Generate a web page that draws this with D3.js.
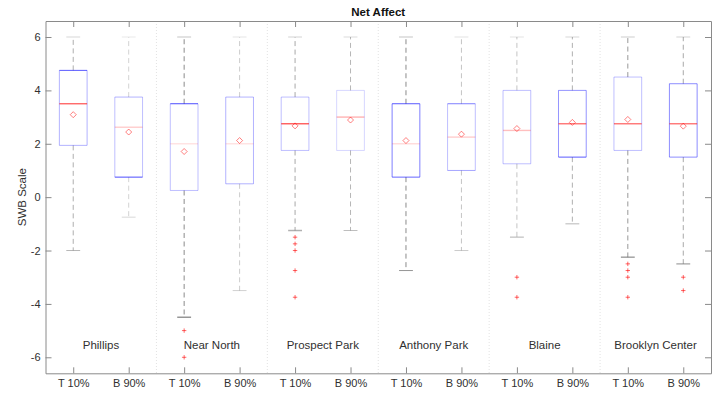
<!DOCTYPE html>
<html>
<head>
<meta charset="utf-8">
<script src="https://cdn.jsdelivr.net/npm/d3@7"></script>
<style>
  html, body { margin: 0; padding: 0; background: #fff; }
  svg { display: block; font-family: "Liberation Sans", Arial, Helvetica, sans-serif; }
</style>
</head>
<body>
<svg id="chart" width="718" height="400"></svg>
<script>
// Neighbourhoods, two boxes each (top 10% / bottom 90%)
const groups = ["Phillips", "Near North", "Prospect Park", "Anthony Park", "Blaine", "Brooklyn Center"];
const tickLabels = ["T 10%", "B 90%", "T 10%", "B 90%", "T 10%", "B 90%",
                    "T 10%", "B 90%", "T 10%", "B 90%", "T 10%", "B 90%"];
const yTicks = [-6, -4, -2, 0, 2, 4, 6];

// Box statistics per column
const q1       = [1.94, 0.75, 0.25, 0.5, 1.75, 1.75, 0.75, 1.0, 1.25, 1.5, 1.75, 1.5];
const medians  = [3.5, 2.62, 2.0, 2.0, 2.75, 3.0, 2.0, 2.25, 2.5, 2.75, 2.75, 2.75];
const q3       = [4.75, 3.75, 3.5, 3.75, 3.75, 4.0, 3.5, 3.5, 4.0, 4.0, 4.5, 4.25];
const means    = [3.09, 2.44, 1.71, 2.12, 2.67, 2.89, 2.12, 2.36, 2.57, 2.8, 2.91, 2.66];
const whiskLo  = [-2.0, -0.75, -4.5, -3.5, -1.25, -1.25, -2.75, -2.0, -1.5, -1.0, -2.25, -2.5];
const whiskHi  = [6, 6, 6, 6, 6, 6, 6, 6, 6, 6, 6, 6];
const outliers = [[], [], [-5.0, -6.0], [], [-1.5, -1.75, -2.0, -2.75, -3.75], [],
                  [], [], [-3.0, -3.75], [], [-2.5, -2.75, -3.0, -3.75], [-3.0, -3.5]];

// Stroke strength of each box's parts (sides, top, bottom, median, whisker)
const boxStyle = [
  {side: 0.3,  top: 0.65, bot: 0.3,  med: 0.6,  wh: 0.55},
  {side: 0.25, top: 0.3,  bot: 0.7,  med: 0.2,  wh: 0.3},
  {side: 0.25, top: 0.7,  bot: 0.25, med: 0.12, wh: 0.8},
  {side: 0.3,  top: 0.3,  bot: 0.3,  med: 0.12, wh: 0.35},
  {side: 0.25, top: 0.25, bot: 0.25, med: 0.65, wh: 0.6},
  {side: 0.16, top: 0.16, bot: 0.16, med: 0.3,  wh: 0.5},
  {side: 0.5,  top: 0.65, bot: 0.6,  med: 0.15, wh: 0.8},
  {side: 0.25, top: 0.5,  bot: 0.35, med: 0.2,  wh: 0.4},
  {side: 0.25, top: 0.25, bot: 0.25, med: 0.25, wh: 0.4},
  {side: 0.42, top: 0.42, bot: 0.65, med: 0.55, wh: 0.55},
  {side: 0.25, top: 0.25, bot: 0.25, med: 0.55, wh: 0.7},
  {side: 0.45, top: 0.45, bot: 0.45, med: 0.55, wh: 0.6}
];

const svg = d3.select("#chart");
const L = 45.5, R = 711, T = 21, B = 373.3;
const x = d3.scaleLinear().domain([0.5, 12.5]).range([L, R]);
const y = d3.scaleLinear().domain([-6.6, 6.6]).range([B, T]);
const axisColor = "#8a8a8a", textColor = "#303030";
const whiskColor = "#6e6e6e";

const cols = d3.range(12).map(i => ({
  i, pos: i + 1, q1: q1[i], med: medians[i], q3: q3[i], mean: means[i],
  lo: whiskLo[i], hi: whiskHi[i], out: outliers[i], s: boxStyle[i]
}));

// Group separators
svg.append("g").selectAll("line").data([2.5, 4.5, 6.5, 8.5, 10.5]).join("line")
  .attr("x1", d => x(d)).attr("x2", d => x(d))
  .attr("y1", T).attr("y2", B)
  .attr("stroke", "#e2e2e2").attr("stroke-width", 1)
  .attr("stroke-dasharray", "1,2");

const bw = 0.5, cw = 0.25;
const g = svg.append("g");
const col = g.selectAll("g.col").data(cols).join("g").attr("class", "col");

// Whiskers (dashed) and caps
col.append("line")
  .attr("x1", d => x(d.pos)).attr("x2", d => x(d.pos))
  .attr("y1", d => y(d.q3)).attr("y2", d => y(d.hi))
  .attr("stroke", whiskColor).attr("stroke-opacity", d => d.s.wh)
  .attr("stroke-dasharray", "5,3.5");
col.append("line")
  .attr("x1", d => x(d.pos)).attr("x2", d => x(d.pos))
  .attr("y1", d => y(d.q1)).attr("y2", d => y(d.lo))
  .attr("stroke", whiskColor).attr("stroke-opacity", d => d.s.wh)
  .attr("stroke-dasharray", "5,3.5");
col.append("line")
  .attr("x1", d => x(d.pos - cw / 2)).attr("x2", d => x(d.pos + cw / 2))
  .attr("y1", d => y(d.hi)).attr("y2", d => y(d.hi))
  .attr("stroke", whiskColor).attr("stroke-opacity", d => d.s.wh * 0.5);
col.append("line")
  .attr("x1", d => x(d.pos - cw / 2)).attr("x2", d => x(d.pos + cw / 2))
  .attr("y1", d => y(d.lo)).attr("y2", d => y(d.lo))
  .attr("stroke", whiskColor).attr("stroke-opacity", d => Math.min(1, d.s.wh * 0.9))
  .attr("stroke-width", d => d.out.length ? 1.5 : 1);

// Box edges
const blue = "#0000ff";
col.append("line")
  .attr("x1", d => x(d.pos - bw / 2)).attr("x2", d => x(d.pos - bw / 2))
  .attr("y1", d => y(d.q1)).attr("y2", d => y(d.q3))
  .attr("stroke", blue).attr("stroke-opacity", d => d.s.side);
col.append("line")
  .attr("x1", d => x(d.pos + bw / 2)).attr("x2", d => x(d.pos + bw / 2))
  .attr("y1", d => y(d.q1)).attr("y2", d => y(d.q3))
  .attr("stroke", blue).attr("stroke-opacity", d => d.s.side);
col.append("line")
  .attr("x1", d => x(d.pos - bw / 2)).attr("x2", d => x(d.pos + bw / 2))
  .attr("y1", d => y(d.q3)).attr("y2", d => y(d.q3))
  .attr("stroke", blue).attr("stroke-opacity", d => d.s.top);
col.append("line")
  .attr("x1", d => x(d.pos - bw / 2)).attr("x2", d => x(d.pos + bw / 2))
  .attr("y1", d => y(d.q1)).attr("y2", d => y(d.q1))
  .attr("stroke", blue).attr("stroke-opacity", d => d.s.bot);

// Medians
col.append("line")
  .attr("x1", d => x(d.pos - bw / 2)).attr("x2", d => x(d.pos + bw / 2))
  .attr("y1", d => y(d.med)).attr("y2", d => y(d.med))
  .attr("stroke", "#ff0000").attr("stroke-opacity", d => d.s.med)
  .attr("stroke-width", 1.4);

// Means (diamonds)
col.append("path")
  .attr("d", d => {
    const cx = x(d.pos), cy = y(d.mean), r = 3;
    return `M${cx},${cy - r}L${cx + r},${cy}L${cx},${cy + r}L${cx - r},${cy}Z`;
  })
  .attr("fill", "none").attr("stroke", "#ff0000").attr("stroke-opacity", 0.5)
  .attr("stroke-width", 1);

// Outliers (+)
col.selectAll("path.out").data(d => d.out.map(v => ({pos: d.pos, v}))).join("path")
  .attr("class", "out")
  .attr("d", d => {
    const cx = x(d.pos), cy = y(d.v), r = 2.2;
    return `M${cx - r},${cy}H${cx + r}M${cx},${cy - r}V${cy + r}`;
  })
  .attr("stroke", "#ff0000").attr("stroke-opacity", 0.6).attr("stroke-width", 1);

// Axes (box with inward ticks)
function styleAxis(sel) {
  sel.select(".domain").attr("stroke", axisColor);
  sel.selectAll(".tick line").attr("stroke", axisColor);
  sel.selectAll(".tick text").attr("fill", textColor).attr("font-size", 11)
    .attr("font-family", "'Liberation Sans', Arial, sans-serif");
}
svg.append("g").attr("transform", `translate(0,${B})`)
  .call(d3.axisBottom(x).tickValues(d3.range(1, 13)).tickFormat((d, i) => tickLabels[i])
    .tickSizeInner(-6).tickSizeOuter(0).tickPadding(6))
  .call(styleAxis);
svg.append("g").attr("transform", `translate(0,${T})`)
  .call(d3.axisTop(x).tickValues(d3.range(1, 13)).tickFormat("")
    .tickSizeInner(-6).tickSizeOuter(0))
  .call(styleAxis);
svg.append("g").attr("transform", `translate(${L},0)`)
  .call(d3.axisLeft(y).tickValues(yTicks).tickFormat(d3.format("d"))
    .tickSizeInner(-6).tickSizeOuter(0).tickPadding(5))
  .call(styleAxis);
svg.append("g").attr("transform", `translate(${R},0)`)
  .call(d3.axisRight(y).tickValues(yTicks).tickFormat("")
    .tickSizeInner(-6).tickSizeOuter(0))
  .call(styleAxis);
svg.selectAll(".tick text").text(function() { return this.textContent.replace("−", "-"); });

// Group names
svg.append("g").selectAll("text").data(groups).join("text")
  .attr("x", (d, i) => x(2 * i + 1.5))
  .attr("y", 349)
  .attr("text-anchor", "middle")
  .attr("font-size", 11.5)
  .attr("fill", textColor)
  .text(d => d);

// Title and y label
svg.append("text").attr("x", (L + R) / 2).attr("y", 16)
  .attr("text-anchor", "middle").attr("font-size", 11.5).attr("font-weight", "bold")
  .attr("fill", "#111").text("Net Affect");
svg.append("text").attr("transform", `translate(26,${(T + B) / 2}) rotate(-90)`)
  .attr("text-anchor", "middle").attr("font-size", 11.5)
  .attr("fill", textColor).text("SWB Scale");
</script>
</body>
</html>
